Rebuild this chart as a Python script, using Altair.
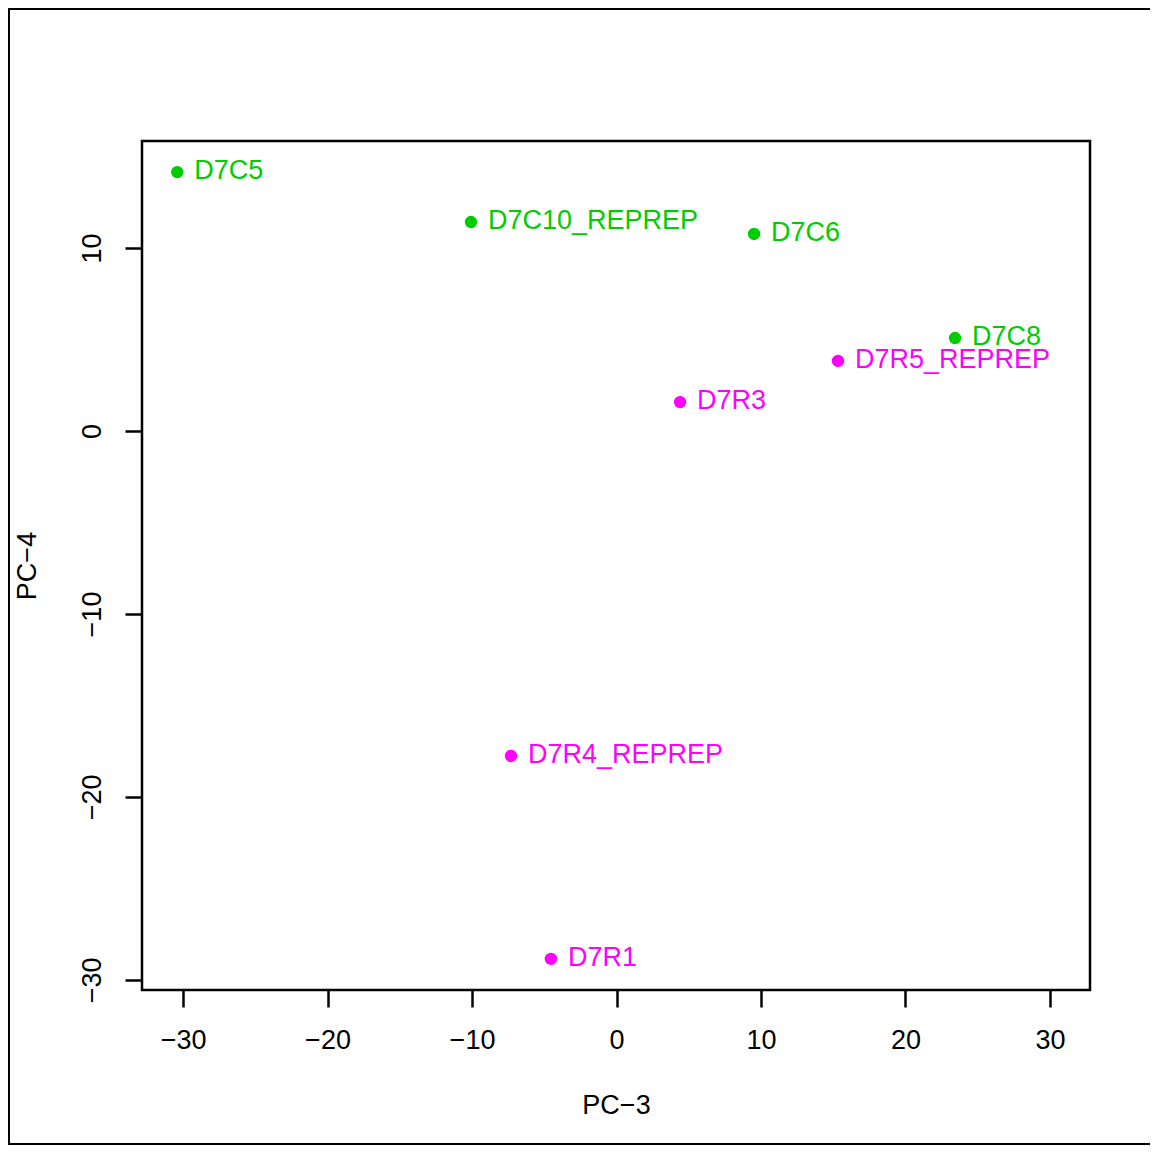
import altair as alt
import pandas as pd

labels = ["D7C5", "D7C10_REPREP", "D7C6", "D7C8",
          "D7R5_REPREP", "D7R3", "D7R4_REPREP", "D7R1"]
pc3 = [-30.4, -10.07, 9.52, 23.43, 15.33, 4.40, -7.30, -4.54]
pc4 = [14.15, 11.42, 10.77, 5.08, 3.83, 1.58, -17.76, -28.85]
groups = ["C", "C", "C", "C", "R", "R", "R", "R"]
group_colors = ["#00CD00", "#FF00FF"]
x_ticks = [-30, -20, -10, 0, 10, 20, 30]
y_ticks = [-30, -20, -10, 0, 10]

df = pd.DataFrame({"label": labels, "pc3": pc3, "pc4": pc4, "group": groups})

FONT = "Liberation Sans"
W, H = 948, 849

x_enc = alt.X(
    "pc3:Q",
    scale=alt.Scale(domain=[-32.84, 32.77], nice=False, zero=False),
    axis=alt.Axis(
        values=x_ticks, format="d", title="PC\u22123", grid=False,
        domain=False, tickSize=17, tickWidth=2.5, tickColor="black",
        labelFont=FONT, labelFontSize=27, labelColor="black",
        labelBaseline="middle", labelPadding=33, labelFlush=False,
        titleFont=FONT, titleFontSize=27, titleFontWeight="normal",
        titleColor="black", titleBaseline="middle", titleY=115,
    ),
)
y_enc = alt.Y(
    "pc4:Q",
    scale=alt.Scale(domain=[-30.55, 15.85], nice=False, zero=False),
    axis=alt.Axis(
        values=y_ticks, format="d", title="PC\u22124", grid=False,
        domain=False, tickSize=17, tickWidth=2.5, tickColor="black",
        labelFont=FONT, labelFontSize=27, labelColor="black",
        labelAngle=270, labelAlign="center", labelBaseline="middle",
        labelPadding=33, labelFlush=False,
        titleFont=FONT, titleFontSize=27, titleFontWeight="normal",
        titleColor="black", titleAngle=270, titleBaseline="middle",
        titleX=-115,
    ),
)
color_enc = alt.Color("group:N",
                      scale=alt.Scale(domain=["C", "R"], range=group_colors),
                      legend=None)

base = alt.Chart(df)

points = base.mark_circle(size=154, opacity=1).encode(
    x=x_enc, y=y_enc, color=color_enc)

texts = base.mark_text(align="left", baseline="middle", dx=17, dy=-1,
                       font=FONT, fontSize=27).encode(
    x=alt.X("pc3:Q"), y=alt.Y("pc4:Q"), text="label:N", color=color_enc)

frame = alt.Chart(pd.DataFrame({"a": [0]})).mark_rect(
    fill=None, stroke="black", strokeWidth=2).encode(
    x=alt.value(-133), x2=alt.value(1030),
    y=alt.value(-132), y2=alt.value(1003))

chart = alt.layer(frame, points, texts).properties(
    width=W, height=H,
    autosize=alt.AutoSizeParams(type="none"),
    padding={"left": 134, "top": 133, "right": 60, "bottom": 156},
    background="white",
).configure_view(stroke="black", strokeWidth=2.5)

chart.save("out.html", embed_options={"renderer": "svg", "actions": False})
